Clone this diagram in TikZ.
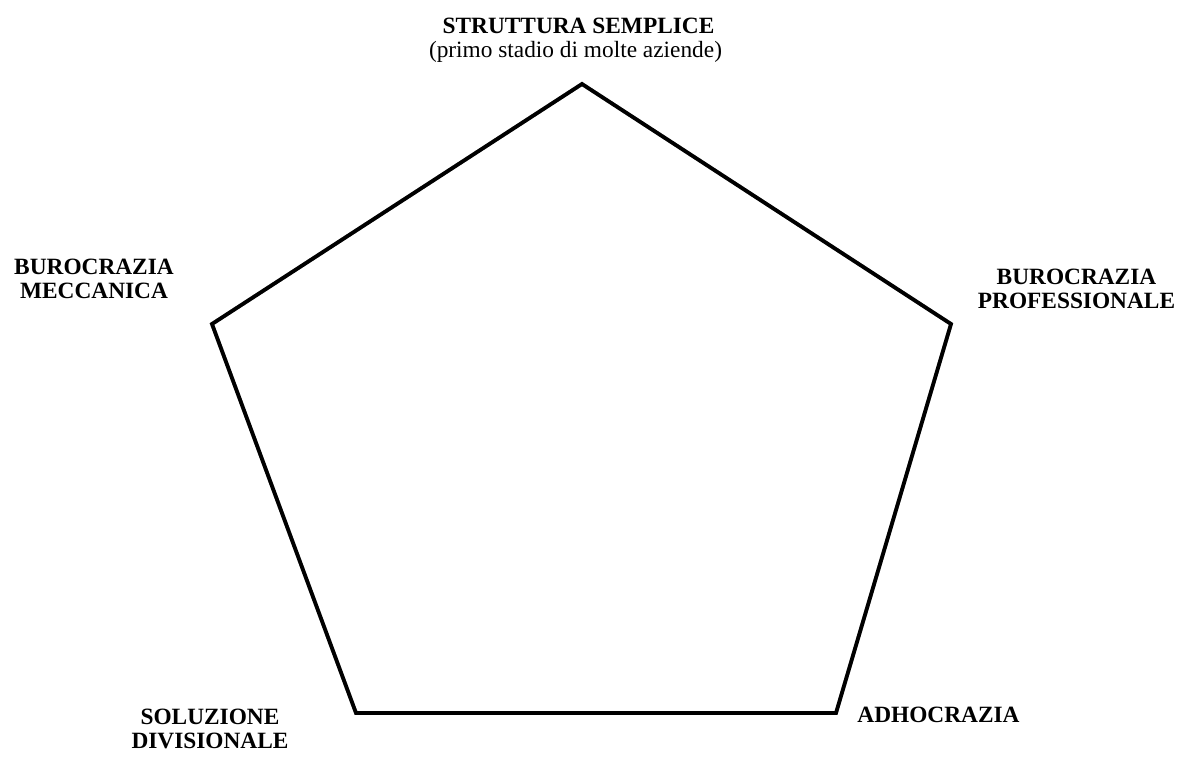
\documentclass[tikz,border=0pt]{standalone}
\usepackage{fontspec}
\setmainfont{Liberation Serif}
\usetikzlibrary{positioning, calc}
\definecolor{edgeink}{HTML}{000000}
\definecolor{shadowgrey}{HTML}{B4B4B4}

\begin{document}
\begin{tikzpicture}[
    x=0.025cm, y=-0.025cm,
    type label/.style={font=\fontsize{16.6}{16.4}\selectfont\bfseries,
        align=center, inner sep=0pt, anchor=base},
    note label/.style={font=\fontsize{16.6}{16.4}\selectfont,
        align=center, inner sep=0pt, anchor=base},
    pentagon edge/.style={draw=edgeink, line width=2.7pt, line join=miter},
    pentagon shadow/.style={draw=shadowgrey, line width=2.7pt, line join=miter},
]

% ══════════════════════════════════════════════════════════════════════
%  FRAME — picture in pixel units, y running down
% ══════════════════════════════════════════════════════════════════════
\useasboundingbox (0,0) rectangle (1180,757);

% ── Vertices of the pentagon ──────────────────────────────────────────
\coordinate (semplice)      at (582,84);
\coordinate (meccanica)     at (212,324);
\coordinate (professionale) at (951,324);
\coordinate (divisionale)   at (356,713);
\coordinate (adhocrazia)    at (836,713);

% ── Shadow, then the outline ──────────────────────────────────────────
\draw[pentagon shadow, shift={(2,3)}]
    (semplice) -- (professionale) -- (adhocrazia) -- (divisionale)
    -- (meccanica) -- cycle;
\draw[pentagon edge]
    (semplice) -- (professionale) -- (adhocrazia) -- (divisionale)
    -- (meccanica) -- cycle;

% ── Labels (base = last line of each label) ───────────────────────────
\node[type label] (lblSemplice) at (578.5,33) {STRUTTURA SEMPLICE};
\node[note label] (lblNote) at (575.5,57) {(primo stadio di molte aziende)};
\node[type label] (lblMeccanica) at (94,298) {BUROCRAZIA\\MECCANICA};
\node[type label] (lblProfessionale) at (1076.5,308)
    {BUROCRAZIA\\PROFESSIONALE};
\node[type label] (lblDivisionale) at (210,748) {SOLUZIONE\\DIVISIONALE};
\node[type label] (lblAdhocrazia) at (938.5,722) {ADHOCRAZIA};

\end{tikzpicture}
\end{document}
